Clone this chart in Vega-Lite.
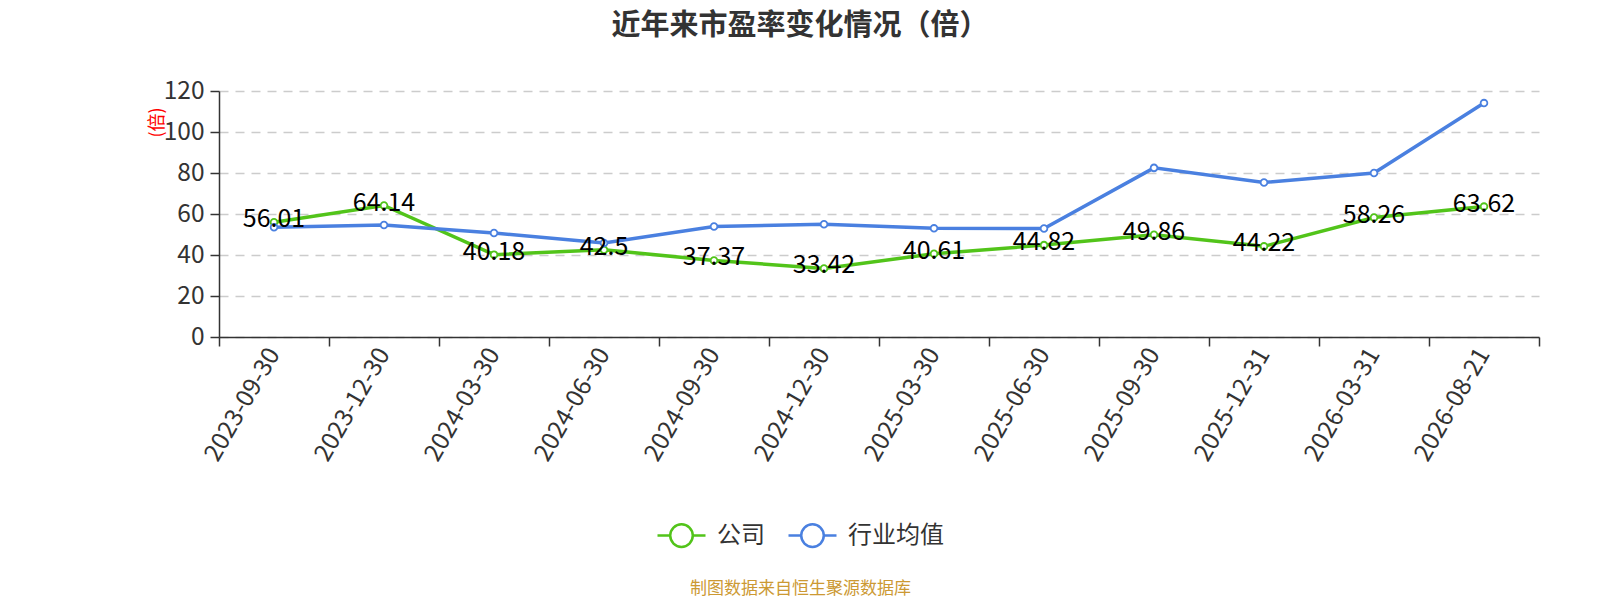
{
  "$schema": "https://vega.github.io/schema/vega-lite/v6.json",
  "description": "近年来市盈率变化情况（倍）",
  "autosize": {"type": "none"},
  "width": 1320,
  "height": 246,
  "padding": {"left": 219, "top": 91, "right": 61, "bottom": 263},
  "background": "white",
  "title": {
    "text": "近年来市盈率变化情况（倍）",
    "anchor": "middle",
    "dx": -79,
    "offset": 37,
    "font": "Noto Sans CJK SC",
    "fontSize": 29,
    "fontWeight": "bold",
    "color": "#333333"
  },
  "config": {
    "view": {"stroke": "transparent"},
    "font": "Noto Sans CJK SC",
    "axis": {
      "labelFont": "Noto Sans CJK SC",
      "titleFont": "Noto Sans CJK SC",
      "domainColor": "#333333",
      "domainWidth": 1.5,
      "tickColor": "#333333",
      "tickWidth": 1.5,
      "tickSize": 9,
      "labelColor": "#333333",
      "labelFontSize": 24.5
    },
    "legend": {
      "labelFont": "Noto Sans CJK SC"
    }
  },
  "data": {
    "values": [
      {"date": "2023-09-30", "series": "公司", "value": 56.01},
      {"date": "2023-12-30", "series": "公司", "value": 64.14},
      {"date": "2024-03-30", "series": "公司", "value": 40.18},
      {"date": "2024-06-30", "series": "公司", "value": 42.5},
      {"date": "2024-09-30", "series": "公司", "value": 37.37},
      {"date": "2024-12-30", "series": "公司", "value": 33.42},
      {"date": "2025-03-30", "series": "公司", "value": 40.61},
      {"date": "2025-06-30", "series": "公司", "value": 44.82},
      {"date": "2025-09-30", "series": "公司", "value": 49.86},
      {"date": "2025-12-31", "series": "公司", "value": 44.22},
      {"date": "2026-03-31", "series": "公司", "value": 58.26},
      {"date": "2026-08-21", "series": "公司", "value": 63.62},
      {"date": "2023-09-30", "series": "行业均值", "value": 53.5},
      {"date": "2023-12-30", "series": "行业均值", "value": 54.6},
      {"date": "2024-03-30", "series": "行业均值", "value": 50.7},
      {"date": "2024-06-30", "series": "行业均值", "value": 45.9},
      {"date": "2024-09-30", "series": "行业均值", "value": 53.9},
      {"date": "2024-12-30", "series": "行业均值", "value": 55.0},
      {"date": "2025-03-30", "series": "行业均值", "value": 53.0},
      {"date": "2025-06-30", "series": "行业均值", "value": 52.9},
      {"date": "2025-09-30", "series": "行业均值", "value": 82.5},
      {"date": "2025-12-31", "series": "行业均值", "value": 75.4},
      {"date": "2026-03-31", "series": "行业均值", "value": 80.0},
      {"date": "2026-08-21", "series": "行业均值", "value": 114.1}
    ]
  },
  "encoding": {
    "x": {
      "field": "date",
      "type": "ordinal",
      "sort": null,
      "scale": {"type": "band", "paddingInner": 0, "paddingOuter": 0},
      "axis": {
        "labelAngle": -60,
        "tickBand": "extent",
        "labelPadding": 4,
        "grid": false,
        "title": "制图数据来自恒生聚源数据库",
        "titleColor": "#cc9933",
        "titleFontSize": 17,
        "titleFontWeight": "normal",
        "titleX": 581,
        "titleY": 251,
        "titleAlign": "center",
        "titleBaseline": "middle"
      }
    },
    "y": {
      "field": "value",
      "type": "quantitative",
      "scale": {"domain": [0, 120], "nice": false},
      "axis": {
        "values": [0, 20, 40, 60, 80, 100, 120],
        "labelPadding": 6,
        "grid": true,
        "gridColor": "#cccccc",
        "gridWidth": 1.5,
        "gridDash": [9, 7],
        "title": "(倍)",
        "titleColor": "#ff0000",
        "titleFontSize": 18,
        "titleFontWeight": "normal",
        "titleAngle": -90,
        "titleX": -62,
        "titleY": 31,
        "titleAlign": "center",
        "titleBaseline": "middle"
      }
    }
  },
  "layer": [
    {
      "mark": {"type": "line", "strokeWidth": 3.5},
      "encoding": {
        "color": {
          "field": "series",
          "type": "nominal",
          "scale": {"domain": ["公司", "行业均值"], "range": ["#52c41a", "#4a80e0"]},
          "legend": {
            "title": null,
            "orient": "none",
            "direction": "horizontal",
            "legendX": 437,
            "legendY": 419,
            "symbolType": "M-1,0H-0.47M0.47,0H1M-0.47,0A0.47,0.47,0,1,1,0.47,0A0.47,0.47,0,1,1,-0.47,0Z",
            "symbolSize": 2304,
            "symbolStrokeWidth": 2.5,
            "symbolFillColor": "white",
            "labelFontSize": 24,
            "labelColor": "#333333",
            "labelOffset": 10,
            "columnPadding": 18
          }
        }
      }
    },
    {
      "mark": {"type": "point", "shape": "circle", "filled": true, "fill": "white", "size": 45, "strokeWidth": 1.8, "opacity": 1},
      "encoding": {
        "stroke": {
          "field": "series",
          "type": "nominal",
          "scale": {"domain": ["公司", "行业均值"], "range": ["#52c41a", "#4a80e0"]},
          "legend": null
        }
      }
    },
    {
      "transform": [{"filter": "datum.series === '公司'"}],
      "mark": {"type": "text", "fontSize": 25, "color": "#000000", "baseline": "middle", "dy": -3},
      "encoding": {
        "text": {"field": "value", "type": "quantitative"}
      }
    }
  ]
}
